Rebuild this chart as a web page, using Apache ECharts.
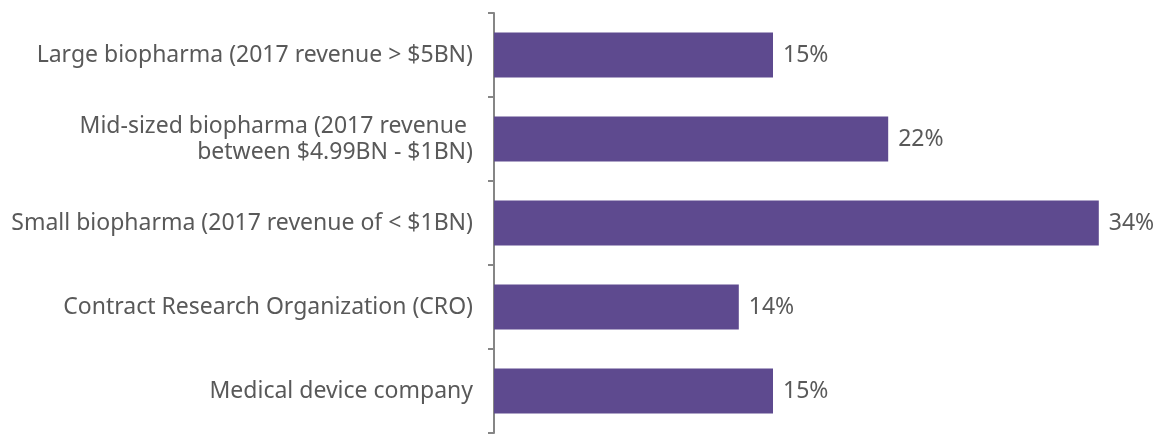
<!DOCTYPE html>
<html>
<head>
<meta charset="utf-8">
<script src="https://cdn.jsdelivr.net/npm/echarts@6/dist/echarts.min.js"></script>
<style>html,body{margin:0;padding:0;background:#fff;}#c{width:1167px;height:435px;}</style>
</head>
<body>
<div id="c"></div>
<script>
const categories = [
  "Large biopharma (2017 revenue > $5BN)",
  "Mid-sized biopharma (2017 revenue \nbetween $4.99BN - $1BN)",
  "Small biopharma (2017 revenue of < $1BN)",
  "Contract Research Organization (CRO)",
  "Medical device company"
];
const values = [15.5, 21.9, 33.6, 13.6, 15.5];
const labels = ["15%", "22%", "34%", "14%", "15%"];

const chart = echarts.init(document.getElementById('c'), null, {renderer: 'canvas'});
chart.setOption({
  animation: false,
  grid: {left: 494, right: 25, top: 13, bottom: 2, containLabel: false},
  xAxis: {type: 'value', min: 0, max: 36, show: false, splitLine: {show: false}},
  yAxis: {
    type: 'category',
    data: categories,
    inverse: true,
    axisLine: {show: true, lineStyle: {color: '#868686', width: 2}},
    axisTick: {show: true, length: 6, lineStyle: {color: '#868686', width: 2}},
    axisLabel: {color: '#595959', fontFamily: 'Noto Sans', fontSize: 23, margin: 21, lineHeight: 26, align: 'right', padding: [4, 0, 0, 0]},
  },
  series: [{
    type: 'bar',
    data: values,
    barWidth: 45,
    itemStyle: {color: '#5e4a8f'},
    label: {
      show: true, position: 'right', distance: 10,
      color: '#595959', fontFamily: 'Noto Sans', fontSize: 23,
      formatter: p => labels[p.dataIndex]
    }
  }]
});
</script>
</body>
</html>
